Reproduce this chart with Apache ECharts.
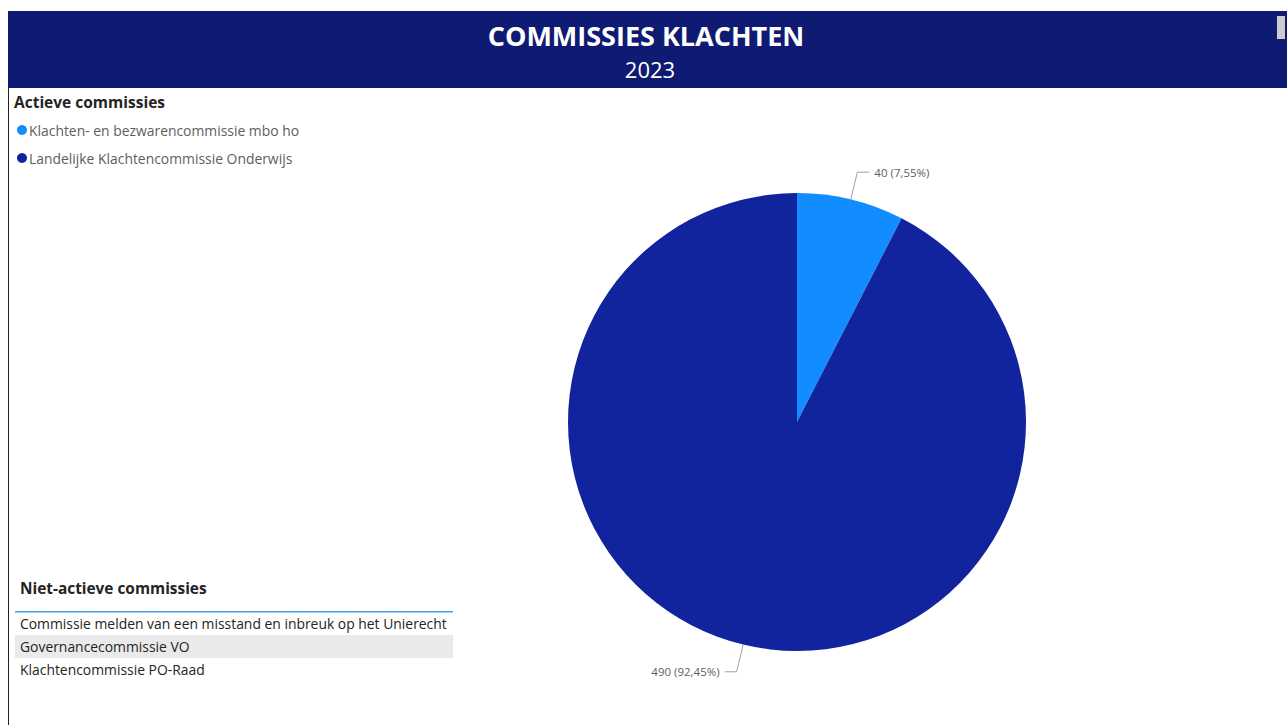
<!DOCTYPE html>
<html>
<head>
<meta charset="utf-8">
<script src="https://cdn.jsdelivr.net/npm/echarts@6/dist/echarts.min.js"></script>
<style>
html,body{margin:0;padding:0;background:#fff;}
#chart{width:1287px;height:725px;}
</style>
</head>
<body>
<div id="chart"></div>
<script>
const titleText = 'COMMISSIES KLACHTEN';
const yearText = '2023';
const activeTitle = 'Actieve commissies';
const inactiveTitle = 'Niet-actieve commissies';
const categories = ['Klachten- en bezwarencommissie mbo ho', 'Landelijke Klachtencommissie Onderwijs'];
const values = [40, 490];
const colors = ['#118DFF', '#12239E'];
const inactiveCommissions = [
  'Commissie melden van een misstand en inbreuk op het Unierecht',
  'Governancecommissie VO',
  'Klachtencommissie PO-Raad'
];

const FONT = '"Open Sans", "Noto Sans", sans-serif';
const total = values.reduce((a, b) => a + b, 0);

const chart = echarts.init(document.getElementById('chart'), null, {renderer: 'svg'});

const tableGraphics = [];
tableGraphics.push({type: 'rect', shape: {x: 15, y: 611, width: 438, height: 1.5}, style: {fill: '#40A0F0'}, silent: true});
inactiveCommissions.forEach((name, i) => {
  const top = 612 + i * 23;
  if (i % 2 === 1) {
    tableGraphics.push({type: 'rect', shape: {x: 15, y: top, width: 438, height: 23}, style: {fill: '#EAEAEA'}, silent: true});
  }
  tableGraphics.push({type: 'text', x: 20, y: top + 11, style: {text: name, fill: '#252423', font: '13.9px ' + FONT, textVerticalAlign: 'middle', textBaseline: 'middle'}, silent: true});
});

chart.setOption({
  animation: false,
  graphic: [
    {type: 'rect', shape: {x: 8, y: 11, width: 1279, height: 77}, style: {fill: '#0F1A72'}, silent: true, z: 0},
    {type: 'rect', shape: {x: 1277, y: 16, width: 8, height: 23}, style: {fill: '#CCCCCC'}, silent: true, z: 1},
    {type: 'rect', shape: {x: 8, y: 88, width: 1, height: 637}, style: {fill: '#222'}, silent: true},
    {type: 'text', x: 14, y: 102, style: {text: activeTitle, fill: '#252423', font: 'bold 15.5px ' + FONT, textVerticalAlign: 'middle', textBaseline: 'middle'}, silent: true},
    {type: 'text', x: 20, y: 588, style: {text: inactiveTitle, fill: '#252423', font: 'bold 15.4px ' + FONT, textVerticalAlign: 'middle', textBaseline: 'middle'}, silent: true},
    ...tableGraphics
  ],
  title: [
    {text: titleText, left: 641, top: 17, textAlign: 'center',
     textStyle: {color: '#fff', fontSize: 27, fontWeight: 'bold', fontFamily: FONT}},
    {text: yearText, left: 645, top: 53, textAlign: 'center',
     textStyle: {color: '#fff', fontSize: 22, fontWeight: 'normal', fontFamily: FONT}}
  ],
  legend: {
    orient: 'vertical',
    left: 12,
    top: 115,
    itemGap: 8,
    icon: 'circle',
    itemWidth: 10,
    itemHeight: 10,
    selectedMode: false,
    data: categories,
    textStyle: {color: '#605E5C', fontSize: 13.9, lineHeight: 20, fontFamily: FONT, padding: [0, 0, 0, -3]}
  },
  series: [{
    type: 'pie',
    center: [797, 422],
    radius: 229,
    startAngle: 90,
    clockwise: true,
    silent: true,
    itemStyle: {borderWidth: 0},
    label: {
      show: true,
      position: 'outside',
      color: '#605E5C',
      fontSize: 11.5,
      fontFamily: FONT,
      formatter: p => p.value + ' (' + (p.value / total * 100).toFixed(2).replace('.', ',') + '%)'
    },
    labelLine: {show: true, length: 28, length2: 12, lineStyle: {color: '#A0A0A0', width: 1}},
    data: categories.map((c, i) => ({name: c, value: values[i], itemStyle: {color: colors[i]}}))
  }]
});
</script>
</body>
</html>
